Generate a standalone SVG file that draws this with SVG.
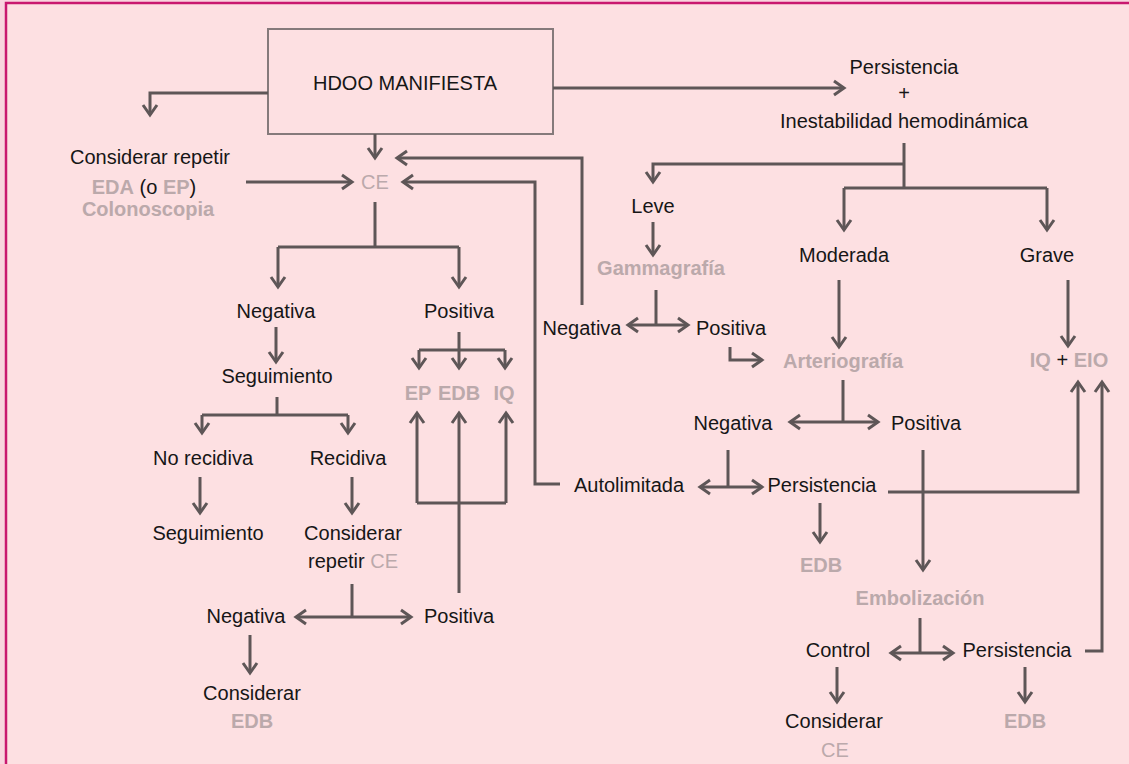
<svg xmlns="http://www.w3.org/2000/svg" width="1129" height="764" viewBox="0 0 1129 764">
<defs>
<marker id="ah" markerUnits="userSpaceOnUse" markerWidth="16" markerHeight="18" viewBox="0 0 16 18" refX="13" refY="9" orient="auto">
<path d="M3,2 L13,9 L3,16" fill="none" stroke="#5e5657" stroke-width="3" stroke-linejoin="miter"/>
</marker>
<style>
.t{font-family:"Liberation Sans",Arial,sans-serif;font-size:20px;fill:#161616;text-anchor:middle}
.g{fill:#bba9ab;font-weight:bold}
.gl{fill:#bba9ab}
.k{fill:#161616;font-weight:normal}
.c path{fill:none;stroke:#5e5657;stroke-width:3}
.a{marker-end:url(#ah)}
</style>
</defs>
<rect width="1129" height="764" fill="#f8d5de"/>
<rect x="6" y="3" width="1123" height="761" fill="#fde0e2"/>
<path d="M6,764 V3 H1129" fill="none" stroke="#c9186f" stroke-width="2.5"/>

<g id="n-hdoo">
<rect x="268" y="29" width="285" height="105" fill="#fde0e2" stroke="#857a7b" stroke-width="2"/>
<text class="t" x="405" y="90">HDOO MANIFIESTA</text>
</g>
<g id="n-considerar-repetir">
<text class="t" x="150" y="164">Considerar repetir</text>
<text class="t" x="144" y="194"><tspan class="g">EDA</tspan> (o <tspan class="g">EP</tspan>)</text>
<text class="t g" x="148" y="216">Colonoscopia</text>
</g>
<g id="n-ce"><text class="t gl" x="375" y="189">CE</text></g>
<g id="n-neg1"><text class="t" x="276" y="318">Negativa</text></g>
<g id="n-pos1"><text class="t" x="459" y="318">Positiva</text></g>
<g id="n-seg1"><text class="t" x="277" y="383">Seguimiento</text></g>
<g id="n-ep"><text class="t g" x="418" y="400">EP</text></g>
<g id="n-edb1"><text class="t g" x="459" y="400">EDB</text></g>
<g id="n-iq1"><text class="t g" x="504" y="400">IQ</text></g>
<g id="n-norec"><text class="t" x="203" y="465">No recidiva</text></g>
<g id="n-rec"><text class="t" x="348" y="465">Recidiva</text></g>
<g id="n-seg2"><text class="t" x="208" y="540">Seguimiento</text></g>
<g id="n-consrep">
<text class="t" x="353" y="540">Considerar</text>
<text class="t" x="353" y="568">repetir <tspan class="gl">CE</tspan></text>
</g>
<g id="n-neg2"><text class="t" x="246" y="623">Negativa</text></g>
<g id="n-pos2"><text class="t" x="459" y="623">Positiva</text></g>
<g id="n-consedb">
<text class="t" x="252" y="700">Considerar</text>
<text class="t g" x="252" y="728">EDB</text>
</g>
<g id="n-persinest">
<text class="t" x="904" y="74">Persistencia</text>
<text class="t" x="904" y="100">+</text>
<text class="t" x="904" y="128">Inestabilidad hemodinámica</text>
</g>
<g id="n-leve"><text class="t" x="653" y="213">Leve</text></g>
<g id="n-moderada"><text class="t" x="844" y="262">Moderada</text></g>
<g id="n-grave"><text class="t" x="1047" y="262">Grave</text></g>
<g id="n-gamma"><text class="t g" x="661" y="275">Gammagrafía</text></g>
<g id="n-neg3"><text class="t" x="582" y="335">Negativa</text></g>
<g id="n-pos3"><text class="t" x="731" y="335">Positiva</text></g>
<g id="n-arterio"><text class="t g" x="843" y="368">Arteriografía</text></g>
<g id="n-iqeio"><text class="t" x="1069" y="367"><tspan class="g">IQ</tspan> + <tspan class="g">EIO</tspan></text></g>
<g id="n-neg4"><text class="t" x="733" y="430">Negativa</text></g>
<g id="n-pos4"><text class="t" x="926" y="430">Positiva</text></g>
<g id="n-autolim"><text class="t" x="629" y="492">Autolimitada</text></g>
<g id="n-pers2"><text class="t" x="822" y="492">Persistencia</text></g>
<g id="n-edb2"><text class="t g" x="821" y="572">EDB</text></g>
<g id="n-embol"><text class="t g" x="920" y="605">Embolización</text></g>
<g id="n-control"><text class="t" x="838" y="657">Control</text></g>
<g id="n-pers3"><text class="t" x="1017" y="657">Persistencia</text></g>
<g id="n-consce">
<text class="t" x="834" y="728">Considerar</text>
<text class="t gl" x="835" y="757">CE</text>
</g>
<g id="n-edb3"><text class="t g" x="1025" y="728">EDB</text></g>

<g id="connectors" class="c">
<path class="a" d="M268,93 H150 V115"/>
<path class="a" d="M375,134 V158"/>
<path class="a" d="M553,88 H844"/>
<path class="a" d="M246,182 H352"/>
<path d="M375,202 V247 M278,247 H459"/>
<path class="a" d="M278,247 V287"/>
<path class="a" d="M459,247 V287"/>
<path class="a" d="M276,327 V362"/>
<path d="M277,397 V415 M202,415 H348"/>
<path class="a" d="M202,415 V433"/>
<path class="a" d="M348,415 V433"/>
<path class="a" d="M200,477 V513"/>
<path class="a" d="M352,477 V513"/>
<path d="M459,332 V350 M419,350 H505"/>
<path class="a" d="M419,350 V368"/>
<path class="a" d="M459,350 V368"/>
<path class="a" d="M505,350 V368"/>
<path class="a" d="M459,593 V413"/>
<path d="M417,503 H506"/>
<path class="a" d="M417,503 V413"/>
<path class="a" d="M506,503 V413"/>
<path d="M352,584 V617"/>
<path class="a" d="M352,617 H296"/>
<path class="a" d="M352,617 H411"/>
<path class="a" d="M250,635 V673"/>
<path d="M904,143 V188 M844,188 H1047"/>
<path class="a" d="M904,164 H653 V182"/>
<path class="a" d="M844,188 V230"/>
<path class="a" d="M1047,188 V230"/>
<path class="a" d="M653,222 V255"/>
<path class="a" d="M839,280 V347"/>
<path class="a" d="M1068,280 V346"/>
<path d="M656,290 V325"/>
<path class="a" d="M656,325 H628"/>
<path class="a" d="M656,325 H688"/>
<path class="a" d="M582,305 V158 H397"/>
<path class="a" d="M730,347 V360 H762"/>
<path d="M843,380 V422"/>
<path class="a" d="M843,422 H790"/>
<path class="a" d="M843,422 H878"/>
<path d="M728,450 V487"/>
<path class="a" d="M728,487 H700"/>
<path class="a" d="M728,487 H762"/>
<path class="a" d="M560,484 H535 V182 H403"/>
<path class="a" d="M820,503 V542"/>
<path class="a" d="M888,492 H1078 V382"/>
<path class="a" d="M923,450 V570"/>
<path d="M920,618 V653"/>
<path class="a" d="M920,653 H891"/>
<path class="a" d="M920,653 H953"/>
<path class="a" d="M1085,651 H1102 V382"/>
<path class="a" d="M837,667 V702"/>
<path class="a" d="M1025,667 V702"/>
</g>
</svg>
